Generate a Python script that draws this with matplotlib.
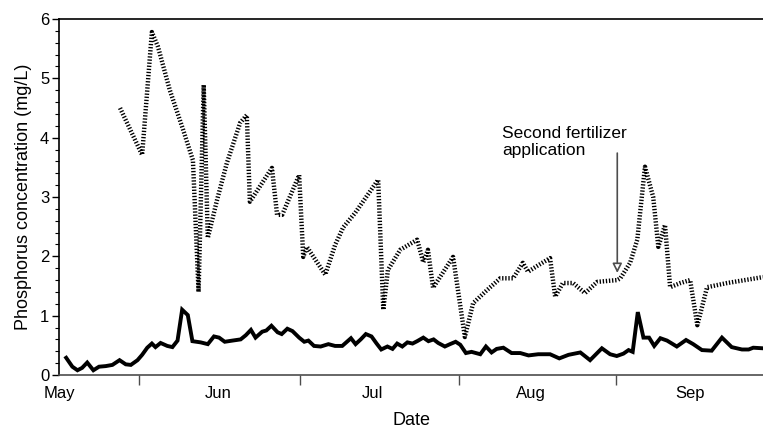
import numpy as np
import matplotlib.pyplot as plt

# days since May 1
low_days = [1.4, 2.6, 3.6, 4.5, 5.5, 6.7, 7.8, 9.1, 10.4, 11.8, 13.0, 14.0, 15.3, 16.2,
            17.2, 18.1, 18.8, 19.8, 21.1, 22.1, 23.1, 24.0, 25.1, 26.0, 27.6, 29.0, 30.2,
            31.2, 32.3, 33.8, 35.4, 36.4, 37.4, 38.3, 39.6, 40.4, 41.4, 42.6, 43.4, 44.5,
            45.5, 46.8, 47.8, 48.6, 49.7, 51.0, 52.5, 53.8, 55.2, 56.9, 57.8, 58.8, 59.8,
            60.9, 61.9, 62.8, 64.0, 65.0, 65.9, 66.9, 67.9, 68.9, 69.8, 71.0, 72.0, 73.0,
            73.9, 75.2, 76.2, 77.3, 78.2, 79.3, 80.4, 82.1, 83.2, 84.3, 85.3, 86.6, 88.2,
            89.9, 91.5, 93.4, 95.7, 97.5, 99.3, 101.6, 103.5, 105.8, 107.4, 108.7, 110.0,
            111.0, 111.8, 112.8, 113.9, 115.0, 116.0, 117.2, 118.5, 120.4, 122.2, 123.6,
            125.3, 127.2, 129.2, 131.1, 133.1, 134.4, 135.3, 137.2]
low_p = [0.29, 0.14, 0.08, 0.12, 0.21, 0.08, 0.14, 0.15, 0.17, 0.25, 0.18, 0.17, 0.25, 0.34,
         0.46, 0.53, 0.47, 0.54, 0.49, 0.47, 0.58, 1.10, 1.01, 0.57, 0.55, 0.52, 0.65,
         0.63, 0.56, 0.58, 0.60, 0.67, 0.76, 0.63, 0.73, 0.75, 0.83, 0.72, 0.69, 0.78,
         0.74, 0.63, 0.56, 0.58, 0.49, 0.48, 0.52, 0.49, 0.49, 0.62, 0.52, 0.60, 0.69,
         0.65, 0.53, 0.43, 0.48, 0.44, 0.53, 0.48, 0.55, 0.53, 0.57, 0.63, 0.57, 0.60,
         0.54, 0.48, 0.52, 0.56, 0.51, 0.37, 0.39, 0.35, 0.48, 0.38, 0.44, 0.46, 0.37,
         0.37, 0.33, 0.35, 0.35, 0.28, 0.34, 0.38, 0.25, 0.45, 0.35, 0.32, 0.36,
         0.42, 0.39, 1.06, 0.63, 0.63, 0.49, 0.62, 0.58, 0.48, 0.59, 0.52,
         0.42, 0.41, 0.63, 0.47, 0.43, 0.43, 0.46, 0.45]

high_days = [11.9, 16.2, 18.1, 19.3, 21.6, 24.2, 26.1, 27.2, 28.2, 29.0, 30.8, 32.7, 35.3,
             36.6, 37.2, 41.5, 42.5, 43.5, 46.8, 47.6, 48.3, 51.9, 53.8, 55.4, 57.7, 62.2,
             63.2, 64.1, 66.5, 69.8, 71.0, 71.9, 72.9, 76.8, 79.1, 80.7, 83.4, 86.0, 88.5,
             90.4, 91.4, 93.4, 95.7, 96.7, 98.2, 100.2, 102.5, 104.9, 108.8, 109.4, 111.3,
             112.7, 114.2, 115.8, 116.8, 118.1, 119.1, 121.1, 123.0, 124.4, 126.3, 130.2,
             137.2]
high_p = [4.50, 3.71, 5.78, 5.53, 4.80, 4.13, 3.62, 1.40, 4.89, 2.31, 2.95, 3.57, 4.25,
          4.38, 2.92, 3.49, 2.70, 2.70, 3.37, 1.99, 2.16, 1.69, 2.19, 2.49, 2.73, 3.29,
          1.10, 1.77, 2.11, 2.28, 1.90, 2.11, 1.47, 1.99, 0.64, 1.21, 1.43, 1.63, 1.63,
          1.89, 1.74, 1.85, 1.97, 1.32, 1.55, 1.55, 1.38, 1.57, 1.60, 1.63, 1.89,
          2.28, 3.51, 3.00, 2.16, 2.53, 1.48, 1.55, 1.60, 0.84, 1.48, 1.55,
          1.65]

month_starts = [0, 31, 61, 92, 123]
month_labels = ["May", "Jun", "Jul", "Aug", "Sep"]
mid_month = [15.5, 47, 78, 108.5]

plt.rcParams['font.family'] = ['Liberation Sans', 'DejaVu Sans']

fig = plt.figure(figsize=(7.63, 4.30), dpi=100)
ax = fig.add_axes([59 / 763, 55 / 430, 1 - 59 / 763, 356 / 430])

ax.plot(high_days, high_p, color='black', lw=3.2, linestyle=(0, (0.3, 0.4)),
        solid_joinstyle='miter', dash_capstyle='butt')
ax.plot(low_days, low_p, color='black', lw=2.8, solid_joinstyle='miter')

# fertilizer arrow
ax.annotate("", xy=(108.8, 1.72), xytext=(108.8, 3.74),
            arrowprops=dict(arrowstyle='-|>', fc='white', ec='0.3', lw=1.2,
                            mutation_scale=14, shrinkA=0, shrinkB=0))
ax.text(86.4, 3.93, "Second fertilizer\napplication", fontsize=12.5,
        va='center', ha='left', linespacing=1.15)

ax.set_xlim(0, 137.2)
ax.set_ylim(0, 6)
ax.set_xticks(month_starts)
ax.set_xticklabels(month_labels, fontsize=12)
ax.set_xticks(mid_month, minor=True)
ax.tick_params(axis='x', which='major', length=0, pad=8)
ax.tick_params(axis='x', which='minor', length=7, width=1, color='0.3')
ax.set_yticks(range(0, 7))
ax.set_yticks(np.arange(0, 6.01, 0.2), minor=True)
ax.tick_params(axis='y', which='major', length=5, width=1, labelsize=12, pad=2)
ax.tick_params(axis='y', which='minor', length=3, width=0.8)

ax.spines['right'].set_visible(False)
for s in ['left', 'bottom', 'top']:
    ax.spines[s].set_linewidth(1.2)
ax.spines['bottom'].set_color('0.3')

ax.set_xlabel("Date", fontsize=13, labelpad=8)
ax.set_ylabel("Phosphorus concentration (mg/L)", fontsize=13, labelpad=6)

plt.savefig("out.png", dpi=100)
